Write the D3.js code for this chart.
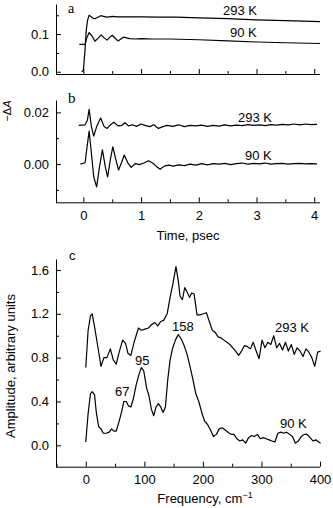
<!DOCTYPE html>
<html><head><meta charset="utf-8">
<script src="https://cdn.jsdelivr.net/npm/d3@7"></script>
<style>
body{margin:0;background:#fff;}
svg{display:block;font-family:"Liberation Sans",Arial,sans-serif;}
.axis path,.axis line{stroke:#000;stroke-width:1;}
.axis text{font-size:13px;fill:#000;font-family:"Liberation Sans",Arial,sans-serif;}
</style></head><body>
<svg id="c" width="333" height="508"></svg>
<script>
// ---------- Panel a: kinetics ----------
const aTime293 = [-0.03,0.0,0.03,0.05,0.07,0.1,0.13,0.17,0.2,0.25,0.3,0.35,0.4,0.45,0.5,0.6,0.8,1.0,1.3,1.6,2.0,2.5,3.0,3.5,4.1];
const aVal293  = [0.0,0.003,0.06,0.11,0.135,0.150,0.147,0.142,0.141,0.145,0.149,0.147,0.145,0.146,0.147,0.146,0.146,0.146,0.145,0.145,0.143,0.141,0.138,0.136,0.133];
const aTime90  = [-0.07,0.03,0.06,0.1,0.15,0.2,0.26,0.31,0.36,0.41,0.46,0.5,0.55,0.6,0.65,0.7,0.8,0.9,1.0,1.2,1.5,2.0,2.5,3.0,3.5,4.1];
const aVal90   = [0.0725,0.0725,0.09,0.104,0.095,0.081,0.090,0.098,0.090,0.084,0.092,0.097,0.089,0.082,0.087,0.092,0.088,0.087,0.088,0.087,0.087,0.085,0.082,0.079,0.077,0.075];

// ---------- Panel b: oscillatory part ----------
const bTime293 = [-0.08,0.03,0.07,0.1,0.14,0.18,0.23,0.3,0.36,0.41,0.47,0.53,0.6,0.67,0.72,0.78,0.85,0.92,1.0,1.07,1.15,1.22,1.3,1.38,1.45,1.55,1.65,1.75,1.85,1.95,2.05,2.15,2.25,2.35,2.45,2.55,2.65,2.75,2.85,2.95,3.05,3.15,3.25,3.35,3.45,3.55,3.65,3.75,3.85,3.95,4.05];
const bVal293  = [0.015,0.0152,0.017,0.0212,0.0145,0.0108,0.0145,0.0178,0.0145,0.0138,0.0152,0.0162,0.0148,0.0150,0.0160,0.0148,0.0152,0.0146,0.0155,0.0150,0.0145,0.0152,0.0138,0.0145,0.0150,0.0146,0.0152,0.0145,0.0150,0.0148,0.0151,0.0146,0.0150,0.0147,0.0152,0.0148,0.0151,0.0149,0.0153,0.0150,0.0152,0.0149,0.0153,0.0151,0.0154,0.0152,0.0155,0.0152,0.0155,0.0153,0.0154];
const bTime90  = [-0.05,0.03,0.06,0.1,0.14,0.18,0.23,0.28,0.33,0.38,0.42,0.47,0.51,0.56,0.61,0.66,0.71,0.77,0.83,0.9,0.97,1.05,1.13,1.2,1.27,1.33,1.4,1.48,1.56,1.65,1.75,1.85,1.95,2.05,2.15,2.25,2.35,2.45,2.55,2.65,2.75,2.85,2.95,3.05,3.15,3.25,3.35,3.45,3.55,3.65,3.75,3.85,3.95,4.05];
const bVal90   = [0,0.0005,0.006,0.0128,0.004,-0.005,-0.0088,-0.001,0.0055,-0.001,-0.005,0.002,0.0067,0.002,-0.0023,0.0005,0.0035,0.0005,-0.0013,0.0002,-0.0002,0.0004,0.0013,0.0004,-0.001,-0.002,-0.0008,-0.0004,-0.0008,-0.0003,-0.0006,0.0,-0.0004,0.0002,-0.0003,0.0002,0.0,0.0003,-0.0002,0.0002,0.0004,0.0,0.0003,0.0001,0.0004,0.0,0.0002,0.0003,0.0,0.0002,0.0003,0.0001,0.0002,0.0001];

// ---------- Panel c: Fourier spectra ----------
const cFreq293 = [0,4,8,11,15,20,26,31,36,42,47,52,57,63,68,72,77,83,90,95,101,107,112,118,123,128,133,139,144,149,154,158,161,165,169,173,177,181,185,190,195,201,206,211,216,221,226,231,236,241,246,251,256,261,266,271,276,281,286,291,296,301,306,311,316,321,326,331,336,341,346,351,356,361,366,371,376,381,386,391,396,401];
const cVal293  = [0.71,1.05,1.18,1.20,1.08,0.92,0.72,0.80,0.80,0.88,0.78,0.74,0.85,0.96,0.93,0.84,0.82,0.95,1.07,1.05,1.06,1.07,1.10,1.12,1.09,1.13,1.14,1.20,1.35,1.48,1.63,1.50,1.36,1.33,1.44,1.40,1.35,1.39,1.38,1.19,1.19,1.20,1.21,1.13,1.05,1.03,0.99,0.98,0.96,0.94,0.92,0.89,0.86,0.82,0.86,0.91,0.90,0.88,0.94,0.86,0.79,0.96,0.89,0.94,0.92,1.00,0.89,0.93,0.87,0.94,0.86,0.92,0.83,0.89,0.86,0.81,0.88,0.85,0.80,0.72,0.85,0.86];
const cFreq90  = [0,4,8,11,15,18,22,26,30,35,40,44,48,52,57,61,65,69,73,77,81,86,91,95,99,104,108,112,116,120,124,128,132,136,140,144,148,153,158,163,168,173,178,183,188,193,198,203,208,213,218,223,228,233,238,243,248,253,258,263,268,273,278,283,288,293,298,303,308,313,318,323,328,333,338,343,348,353,358,363,368,373,378,383,388,393,398,401];
const cVal90   = [0.03,0.29,0.47,0.49,0.46,0.30,0.17,0.15,0.11,0.11,0.12,0.15,0.13,0.13,0.22,0.30,0.40,0.40,0.36,0.35,0.42,0.55,0.65,0.71,0.68,0.52,0.45,0.33,0.27,0.35,0.38,0.35,0.30,0.35,0.60,0.78,0.88,0.96,1.01,0.97,0.91,0.83,0.72,0.60,0.47,0.40,0.30,0.22,0.19,0.14,0.08,0.10,0.15,0.16,0.14,0.12,0.10,0.10,0.06,0.04,0.05,0.02,0.07,0.09,0.08,0.10,0.06,0.07,0.06,0.05,0.04,0.03,0.11,0.12,0.11,0.12,0.10,0.08,0.02,0.04,0.08,0.10,0.10,0.07,0.04,0.05,0.03,0.02];

// tick labels
const timeTicks = [0,1,2,3,4];
const aTicks = [0.0,0.1];
const bTicks = [0.00,0.02];
const cYTicks = [0.0,0.4,0.8,1.2,1.6];
const cXTicks = [0,100,200,300,400];

const svg = d3.select("#c");
const L = 56, R = 320;

const xT = d3.scaleLinear().domain([-0.5,4.1]).range([54.5,320]);
const yA = d3.scaleLinear().domain([-0.006,0.18]).range([74,4]);
const yB = d3.scaleLinear().domain([-0.0148,0.0248]).range([202.3,100]);
const xC = d3.scaleLinear().domain([-50,400]).range([56.5,320]);
const yC = d3.scaleLinear().domain([-0.195,1.7]).range([466.7,259]);

function yAxis(scale, ticks, minor, fmt){
  const g = svg.append("g").attr("class","axis").attr("transform",`translate(${L},0)`);
  g.call(d3.axisLeft(scale).tickValues(ticks).tickFormat(fmt).tickSize(-5).tickSizeOuter(0).tickPadding(7));
  const m = svg.append("g").attr("class","axis").attr("transform",`translate(${L},0)`);
  m.call(d3.axisLeft(scale).tickValues(minor).tickFormat("").tickSize(-3).tickSizeOuter(0));
  m.select(".domain").remove();
}
function xAxis(scale, y, ticks, minor, fmt){
  const g = svg.append("g").attr("class","axis").attr("transform",`translate(0,${y})`);
  g.call(d3.axisBottom(scale).tickValues(ticks).tickFormat(fmt).tickSize(-5).tickSizeOuter(0).tickPadding(8));
  g.select(".domain").attr("d",`M${L},0.5H${R}`);
  const m = svg.append("g").attr("class","axis").attr("transform",`translate(0,${y})`);
  m.call(d3.axisBottom(scale).tickValues(minor).tickFormat("").tickSize(-3).tickSizeOuter(0));
  m.select(".domain").remove();
}

// Panel a axes
yAxis(yA, aTicks, [0.05,0.15], d3.format(".1f"));
xAxis(xT, 74, timeTicks, [0.5,1.5,2.5,3.5], d=>"");
// Panel b axes
yAxis(yB, bTicks, [-0.01,0.01], d3.format(".2f"));
xAxis(xT, 202.3, timeTicks, [0.5,1.5,2.5,3.5], d3.format("d"));
// Panel c axes
yAxis(yC, cYTicks, [0.2,0.6,1.0,1.4], d3.format(".1f"));
xAxis(xC, 466.7, cXTicks, [-50,50,150,250,350], d3.format("d"));

function curve(xs, ys, xsc, ysc){
  const pts = xs.map((x,i)=>[xsc(x), ysc(ys[i])]);
  svg.append("path").attr("d", d3.line()(pts)).attr("fill","none").attr("stroke","#000").attr("stroke-width",1.2).attr("stroke-linejoin","round");
}
curve(aTime293, aVal293, xT, yA);
curve(aTime90, aVal90, xT, yA);
curve(bTime293, bVal293, xT, yB);
curve(bTime90, bVal90, xT, yB);
curve(cFreq293, cVal293, xC, yC);
curve(cFreq90, cVal90, xC, yC);

function txt(x,y,s,opts={}){
  const t = svg.append("text").attr("x",x).attr("y",y).text(s)
    .attr("font-size",opts.size||13).attr("fill","#000")
    .attr("font-family",opts.family||"'Liberation Sans',Arial,sans-serif");
  if(opts.anchor) t.attr("text-anchor",opts.anchor);
  if(opts.style) t.attr("font-style",opts.style);
  return t;
}
// panel letters
txt(68,13,"a",{family:"'Liberation Serif','Times New Roman',serif",size:14});
txt(68,103,"b",{family:"'Liberation Serif','Times New Roman',serif",size:15});
txt(69,260,"c",{size:13});

// curve labels
txt(223,15,"293 K"); txt(230,37,"90 K");
txt(238,122,"293 K"); txt(245,160,"90 K");
txt(275,332,"293 K"); txt(172,331,"158"); txt(135,365,"95"); txt(115,396,"67"); txt(280,428,"90 K");

// axis titles
txt(188,240,"Time, psec",{anchor:"middle"});
const ft = txt(205,503,"Frequency, cm",{anchor:"middle"});
ft.append("tspan").text("\u22121").attr("font-size",9).attr("dy",-5);
svg.append("text").attr("transform","translate(11,111) rotate(-90)").attr("text-anchor","middle")
  .attr("font-size",11).attr("font-family","'Liberation Sans',Arial,sans-serif")
  .html("\u2212\u0394<tspan font-style='italic'>A</tspan>");
svg.append("text").attr("transform","translate(15,366) rotate(-90)").attr("text-anchor","middle")
  .attr("font-size",13).attr("font-family","'Liberation Sans',Arial,sans-serif")
  .text("Amplitude, arbitrary units");
</script>
</body></html>
